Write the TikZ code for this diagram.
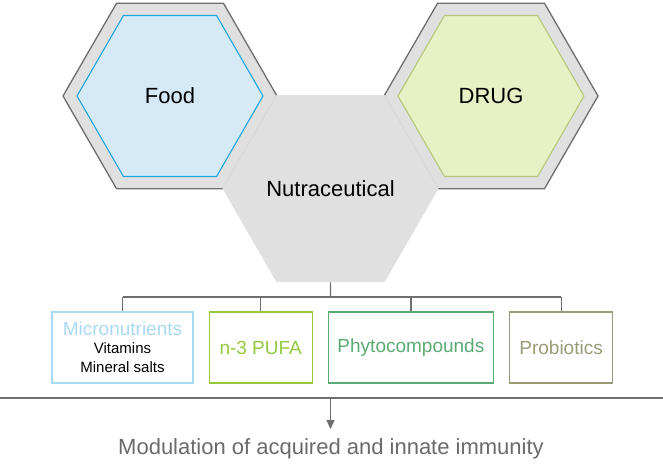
\documentclass[tikz,border=0pt]{standalone}
\usepackage{fontspec}
\setmainfont{Liberation Sans}
\usepackage{xcolor}
\usepackage{tikz}
\usetikzlibrary{arrows.meta,positioning,shapes.geometric}
\definecolor{ringgrey}{HTML}{E0E0E0}
\definecolor{edgegrey}{HTML}{6E6E6E}
\definecolor{foodblue}{HTML}{D5E9F7}
\definecolor{foodedge}{HTML}{1BA6E0}
\definecolor{druggreen}{HTML}{E8F0C5}
\definecolor{drugedge}{HTML}{B4C77A}
\definecolor{microblue}{HTML}{A9DAF3}
\definecolor{pufagreen}{HTML}{95C83D}
\definecolor{phytogreen}{HTML}{5BAA74}
\definecolor{probiogrey}{HTML}{9A9A78}
\definecolor{textgrey}{HTML}{6A6A6A}

\begin{document}
\begin{tikzpicture}[x=1pt,y=-1pt,node distance=15pt,
    hexring/.style={regular polygon,regular polygon sides=6,inner sep=0pt,
                    minimum size=214pt,fill=ringgrey,draw=edgegrey,line width=1.3pt},
    hexcore/.style={regular polygon,regular polygon sides=6,inner sep=0pt,
                    minimum size=186pt,line width=1.1pt,
                    font=\fontsize{22}{26}\selectfont},
    group/.style={draw,rectangle,minimum width=103pt,minimum height=71pt,
                  line width=1.2pt,align=center,inner sep=2pt,
                  font=\fontsize{19}{22}\selectfont},
    link/.style={draw=edgegrey,line width=1.2pt}]
  \useasboundingbox (0,0) rectangle (663,463);
  % the three hexagons
  \node[hexring] (foodring) at (170,96) {};
  \node[hexcore,fill=foodblue,draw=foodedge] (food) at (170,96) {Food};
  \node[hexring] (drugring) at (491,96) {};
  \node[hexcore,fill=druggreen,draw=drugedge] (drug) at (491,96) {DRUG};
  \node[regular polygon,regular polygon sides=6,inner sep=0pt,minimum size=216pt,
        fill=ringgrey,font=\fontsize{22}{26}\selectfont] (nutra) at (330.5,188.7)
       {\raisebox{-3pt}{Nutraceutical}};
  % the four groups
  \node[group,draw=microblue,minimum width=141pt] (micro) at (122.5,347.5)
       {\textcolor{microblue}{Micronutrients}\\[-4pt]
        {\fontsize{15}{17}\selectfont Vitamins}\\[-3pt]
        {\fontsize{15}{17}\selectfont Mineral salts}};
  \node[group,draw=pufagreen,text=pufagreen,right=of micro] (pufa) {n-3 PUFA};
  \node[group,draw=phytogreen,text=phytogreen,minimum width=165pt,right=of pufa] (phyto)
       {Phytocompounds};
  \node[group,draw=probiogrey,text=probiogrey,right=of phyto] (probio) {Probiotics};
  % branching
  \coordinate (hub) at (330.5,297);
  \draw[link] (nutra.south) -- (hub);
  \draw[link] (hub -| micro.north) -- (hub -| probio.north);
  \foreach \grp in {micro,pufa,phyto,probio}
    \draw[link] (hub -| \grp.north) -- (\grp.north);
  % outcome
  \coordinate (railL) at (0,398);
  \coordinate (railR) at (663,398);
  \coordinate (split) at (330.5,398);
  \coordinate (tip) at (330.5,429);
  \draw[link] (railL) -- (railR);
  \draw[link,-{Triangle[length=9pt,width=8pt]}] (split) -- (tip);
  \node[text=textgrey,font=\fontsize{22}{26}\selectfont] (immunity) at (331,449)
       {Modulation of acquired and innate immunity};
\end{tikzpicture}
\end{document}
